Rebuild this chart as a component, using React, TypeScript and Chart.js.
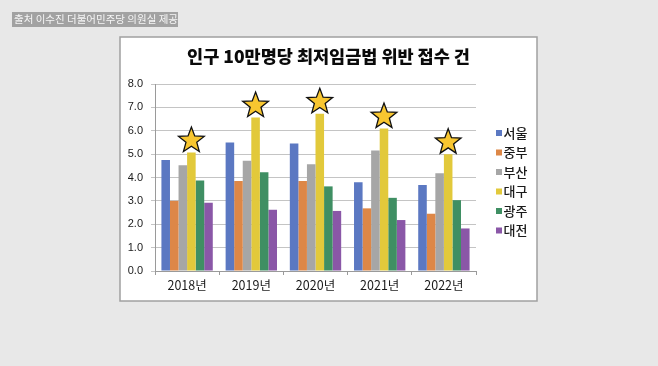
import React, { useEffect, useRef } from "react";
import { Chart, registerables } from "chart.js";

Chart.register(...registerables);

const categories = ["2018년", "2019년", "2020년", "2021년", "2022년"];
const seriesNames = ["서울", "중부", "부산", "대구", "광주", "대전"];
const seoul = [4.75, 5.5, 5.45, 3.8, 3.68];
const jungbu = [3.0, 3.85, 3.85, 2.68, 2.45];
const busan = [4.52, 4.72, 4.57, 5.15, 4.18];
const daegu = [5.07, 6.57, 6.73, 6.1, 5.0];
const gwangju = [3.87, 4.22, 3.62, 3.13, 3.03];
const daejeon = [2.92, 2.62, 2.57, 2.18, 1.82];
const yTicks = [0, 1, 2, 3, 4, 5, 6, 7, 8];
const seriesColors = ["#5b78c2", "#dd8747", "#a6a6a6", "#e2c93b", "#3f8f63", "#8a57a7"];
const titleText = "인구 10만명당 최저임금법 위반 접수 건";
const captionText = "출처 이수진 더불어민주당 의원실 제공";
const starSeriesIndex = 3;

const KR = '"Noto Sans CJK KR", "Noto Sans", sans-serif';

function drawStar(ctx: CanvasRenderingContext2D, cx: number, cy: number, R: number, r: number) {
  ctx.beginPath();
  for (let i = 0; i < 10; i++) {
    const rad = i % 2 === 0 ? R : r;
    const a = -Math.PI / 2 + (i * Math.PI) / 5;
    const x = cx + rad * Math.cos(a);
    const y = cy + rad * Math.sin(a);
    if (i === 0) ctx.moveTo(x, y);
    else ctx.lineTo(x, y);
  }
  ctx.closePath();
}

const decorPlugin = {
  id: "decor",
  beforeDraw(chart: any) {
    const ctx = chart.ctx as CanvasRenderingContext2D;
    ctx.save();
    ctx.fillStyle = "#e8e8e8";
    ctx.fillRect(0, 0, chart.width, chart.height);
    // caption
    ctx.fillStyle = "#a2a2a2";
    ctx.fillRect(12, 12, 166, 15);
    ctx.fillStyle = "#f6f6f6";
    ctx.font = `10.5px ${KR}`;
    ctx.textBaseline = "middle";
    ctx.textAlign = "left";
    ctx.fillText(captionText, 14, 19.5);
    // white box
    ctx.fillStyle = "#ffffff";
    ctx.fillRect(120, 37, 417, 264);
    ctx.strokeStyle = "#a0a0a0";
    ctx.lineWidth = 1.5;
    ctx.strokeRect(120, 37, 417, 264);
    // title
    ctx.fillStyle = "#0a0a0a";
    ctx.font = `900 17.5px ${KR}`;
    ctx.textAlign = "center";
    ctx.textBaseline = "middle";
    ctx.fillText(titleText, 328.5, 56);
    ctx.restore();
  },
  afterDatasetsDraw(chart: any) {
    const ctx = chart.ctx as CanvasRenderingContext2D;
    const meta = chart.getDatasetMeta(starSeriesIndex);
    ctx.save();
    const R = 13.5;
    meta.data.forEach((bar: any) => {
      const cy = bar.y - 0.809 * R - 1;
      drawStar(ctx, bar.x, cy, R, R * 0.42);
      ctx.fillStyle = "#f8c630";
      ctx.fill();
      ctx.strokeStyle = "#111111";
      ctx.lineWidth = 1.3;
      ctx.lineJoin = "miter";
      ctx.stroke();
    });
    // legend
    const ds = chart.data.datasets;
    ctx.font = `500 13px ${KR}`;
    ctx.textBaseline = "middle";
    ctx.textAlign = "left";
    ds.forEach((d: any, i: number) => {
      const y = 133 + i * 19.5;
      ctx.fillStyle = d.backgroundColor;
      ctx.fillRect(496, y - 3, 6, 6);
      ctx.fillStyle = "#1a1a1a";
      ctx.fillText(d.label, 503.5, y);
    });
    ctx.restore();
  },
};

export default function App() {
  const ref = useRef<HTMLCanvasElement | null>(null);
  useEffect(() => {
    document.body.style.margin = "0";
    const values = [seoul, jungbu, busan, daegu, gwangju, daejeon];
    const chart = new Chart(ref.current as HTMLCanvasElement, {
      type: "bar",
      data: {
        labels: categories,
        datasets: seriesNames.map((name, i) => ({
          label: name,
          data: values[i],
          backgroundColor: seriesColors[i],
          borderWidth: 0,
          categoryPercentage: 0.8,
          barPercentage: 1.0,
        })),
      },
      options: {
        responsive: false,
        animation: false,
        devicePixelRatio: 1,
        layout: { padding: { left: 120, right: 182, top: 84, bottom: 65 } },
        plugins: {
          legend: { display: false },
          title: { display: false },
          tooltip: { enabled: false },
        },
        scales: {
          x: {
            afterFit(scale: any) {
              scale.height = 30;
            },
            grid: {
              display: true,
              drawOnChartArea: false,
              offset: true,
              color: "#9a9a9a",
              tickLength: 4,
            },
            border: { color: "#9a9a9a" },
            ticks: {
              color: "#1a1a1a",
              font: { family: KR, size: 12.5 },
              padding: 3,
            },
          },
          y: {
            min: 0,
            max: 8,
            afterFit(scale: any) {
              scale.width = 35;
            },
            afterBuildTicks(scale: any) {
              scale.ticks = yTicks.map((v) => ({ value: v }));
            },
            grid: {
              color: "#c4c4c4",
              tickLength: 4,
            },
            border: { color: "#9a9a9a" },
            ticks: {
              color: "#1a1a1a",
              font: { family: '"Liberation Sans", Arial, sans-serif', size: 11 },
              padding: 8,
              callback: (v: any) => Number(v).toFixed(1),
            },
          },
        },
      },
      plugins: [decorPlugin],
    });
    return () => chart.destroy();
  }, []);
  return <canvas ref={ref} width={658} height={366} style={{ display: "block" }} />;
}
